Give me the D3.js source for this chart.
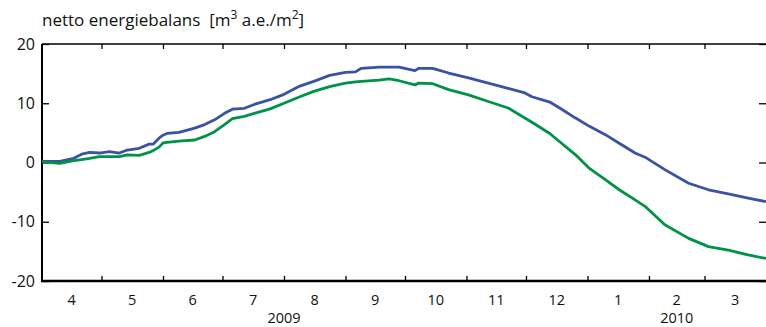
<!DOCTYPE html>
<html>
<head>
<meta charset="utf-8">
<script src="https://cdn.jsdelivr.net/npm/d3@7"></script>
<style>
  body { margin: 0; background: #fff; }
  svg text { font-family: "Open Sans", "Noto Sans", sans-serif; fill: #111; }
</style>
</head>
<body>
<div id="chart"></div>
<script>
// sample dates
let dates = [
  '2009-04-01','2009-04-10','2009-04-17','2009-04-21','2009-04-25','2009-04-30',
  '2009-05-05','2009-05-10','2009-05-14','2009-05-20','2009-05-25','2009-05-27','2009-05-30',
  '2009-06-01','2009-06-03','2009-06-09','2009-06-17','2009-06-22','2009-06-27',
  '2009-07-02','2009-07-06','2009-07-12','2009-07-17','2009-07-25',
  '2009-08-01','2009-08-09','2009-08-16','2009-08-24',
  '2009-09-01','2009-09-06','2009-09-09','2009-09-18','2009-09-23','2009-09-28',
  '2009-10-06','2009-10-08','2009-10-15','2009-10-23',
  '2009-11-02','2009-11-12','2009-11-22','2009-11-30',
  '2009-12-04','2009-12-13','2009-12-18','2009-12-26',
  '2010-01-02','2010-01-10','2010-01-17','2010-01-25','2010-01-30',
  '2010-02-09','2010-02-21','2010-03-03','2010-03-13','2010-03-23','2010-04-01'
];

let blueValues = [
  0.2, 0.2, 0.7, 1.4, 1.7, 1.6,
  1.85, 1.6, 2.1, 2.4, 3.1, 3.1, 4.1,
  4.6, 4.9, 5.1, 5.8, 6.4, 7.2,
  8.3, 9.0, 9.15, 9.8, 10.6,
  11.5, 12.9, 13.7, 14.7,
  15.2, 15.3, 15.9, 16.1, 16.1, 16.1,
  15.5, 15.9, 15.9, 15.1,
  14.3, 13.4, 12.5, 11.8,
  11.1, 10.2, 9.2, 7.5,
  6.1, 4.7, 3.25, 1.6, 0.9,
  -1.2, -3.5, -4.6, -5.3, -6.0, -6.6
];

let greenValues = [
  0.1, -0.15, 0.3, 0.5, 0.7, 1.0,
  1.0, 1.0, 1.3, 1.2, 1.7, 2.0, 2.6,
  3.3, 3.4, 3.6, 3.8, 4.4, 5.2,
  6.4, 7.4, 7.8, 8.3, 9.05,
  10.0, 11.1, 12.0, 12.8,
  13.4, 13.6, 13.7, 13.9, 14.1, 13.8,
  13.1, 13.4, 13.3, 12.3,
  11.4, 10.3, 9.2, 7.6,
  6.8, 4.9, 3.5, 1.3,
  -1.0, -2.9, -4.6, -6.3, -7.4,
  -10.5, -12.8, -14.2, -14.8, -15.6, -16.2
];

let monthLabels = ['4','5','6','7','8','9','10','11','12','1','2','3'];
let yTicks = [-20, -10, 0, 10, 20];
let yearLabels = [
  { label: '2009', date: '2009-08-01' },
  { label: '2010', date: '2010-02-15' }
];

let width = 766;
let height = 327;
let margin = { top: 44, right: 0, bottom: 46, left: 42 };

let parse = d3.timeParse('%Y-%m-%d');
let start = parse('2009-04-01');
let end = parse('2010-04-01');

let x = d3.scaleTime()
  .domain([start, end])
  .range([margin.left, width - margin.right]);

let y = d3.scaleLinear()
  .domain([-20, 20])
  .range([height - margin.bottom, margin.top]);

let svg = d3.select('#chart')
  .append('svg')
  .attr('width', width)
  .attr('height', height);

let months = d3.timeMonth.range(start, end);

// month tick marks, bottom and top, pointing inward
svg.append('g')
  .attr('transform', 'translate(0,' + y(-20) + ')')
  .call(d3.axisBottom(x).tickValues(months.slice(1)).tickSize(-5).tickFormat(''))
  .call(g => g.select('.domain').remove())
  .selectAll('line').attr('stroke', '#000').attr('stroke-width', 1.3);

svg.append('g')
  .attr('transform', 'translate(0,' + y(20) + ')')
  .call(d3.axisTop(x).tickValues(months.slice(1)).tickSize(-5).tickFormat(''))
  .call(g => g.select('.domain').remove())
  .selectAll('line').attr('stroke', '#000').attr('stroke-width', 1.3);

// y ticks left and right
let yLeft = svg.append('g')
  .attr('transform', 'translate(' + margin.left + ',0)')
  .call(d3.axisLeft(y).tickValues(yTicks).tickSize(-7).tickPadding(7).tickFormat(d => String(d)));
yLeft.select('.domain').remove();
yLeft.selectAll('line').attr('stroke', '#000').attr('stroke-width', 1.3);
yLeft.selectAll('text')
  .style('font-size', '16px')
  .style('font-family', '"Open Sans", sans-serif')
  .attr('fill', '#111');

svg.append('g')
  .attr('transform', 'translate(' + (width - margin.right) + ',0)')
  .call(d3.axisRight(y).tickValues(yTicks).tickSize(-7).tickFormat(''))
  .call(g => g.select('.domain').remove())
  .selectAll('line').attr('stroke', '#000').attr('stroke-width', 1.3);

// frame
svg.append('line')
  .attr('x1', margin.left).attr('x2', width)
  .attr('y1', y(20)).attr('y2', y(20))
  .attr('stroke', '#000').attr('stroke-width', 1.5);
svg.append('line')
  .attr('x1', margin.left).attr('x2', margin.left)
  .attr('y1', y(20)).attr('y2', y(-20))
  .attr('stroke', '#000').attr('stroke-width', 2);

// series
let line = d3.line()
  .x(d => x(d.date))
  .y(d => y(d.value));

let series = [
  { name: 'blue', values: blueValues, color: '#3a52a3' },
  { name: 'green', values: greenValues, color: '#009247' }
];

series.forEach(s => {
  let pts = dates.map((d, i) => ({ date: parse(d), value: s.values[i] }));
  svg.append('path')
    .datum(pts)
    .attr('fill', 'none')
    .attr('stroke', s.color)
    .attr('stroke-width', 2.8)
    .attr('stroke-linejoin', 'round')
    .attr('d', line);
});

svg.append('line')
  .attr('x1', margin.left - 1).attr('x2', width)
  .attr('y1', y(-20)).attr('y2', y(-20))
  .attr('stroke', '#000').attr('stroke-width', 2.6);

// month labels centered in month
svg.selectAll('.month')
  .data(months)
  .enter()
  .append('text')
  .attr('class', 'month')
  .attr('x', (d, i) => (x(d) + x(d3.timeMonth.offset(d, 1))) / 2)
  .attr('y', 305)
  .attr('text-anchor', 'middle')
  .style('font-size', '14.5px')
  .text((d, i) => monthLabels[i]);

svg.selectAll('.year')
  .data(yearLabels)
  .enter()
  .append('text')
  .attr('class', 'year')
  .attr('x', d => x(parse(d.date)))
  .attr('y', 323)
  .attr('text-anchor', 'middle')
  .style('font-size', '14.5px')
  .text(d => d.label);

// title
let title = svg.append('text')
  .attr('x', 42)
  .attr('y', 26)
  .style('font-size', '17px');
title.append('tspan').text('netto energiebalans\u00a0\u00a0[m');
title.append('tspan').attr('dy', -7).style('font-size', '12px').text('3');
title.append('tspan').attr('dy', 7).text(' a.e./m');
title.append('tspan').attr('dy', -7).style('font-size', '12px').text('2');
title.append('tspan').attr('dy', 7).text(']');
</script>
</body>
</html>
